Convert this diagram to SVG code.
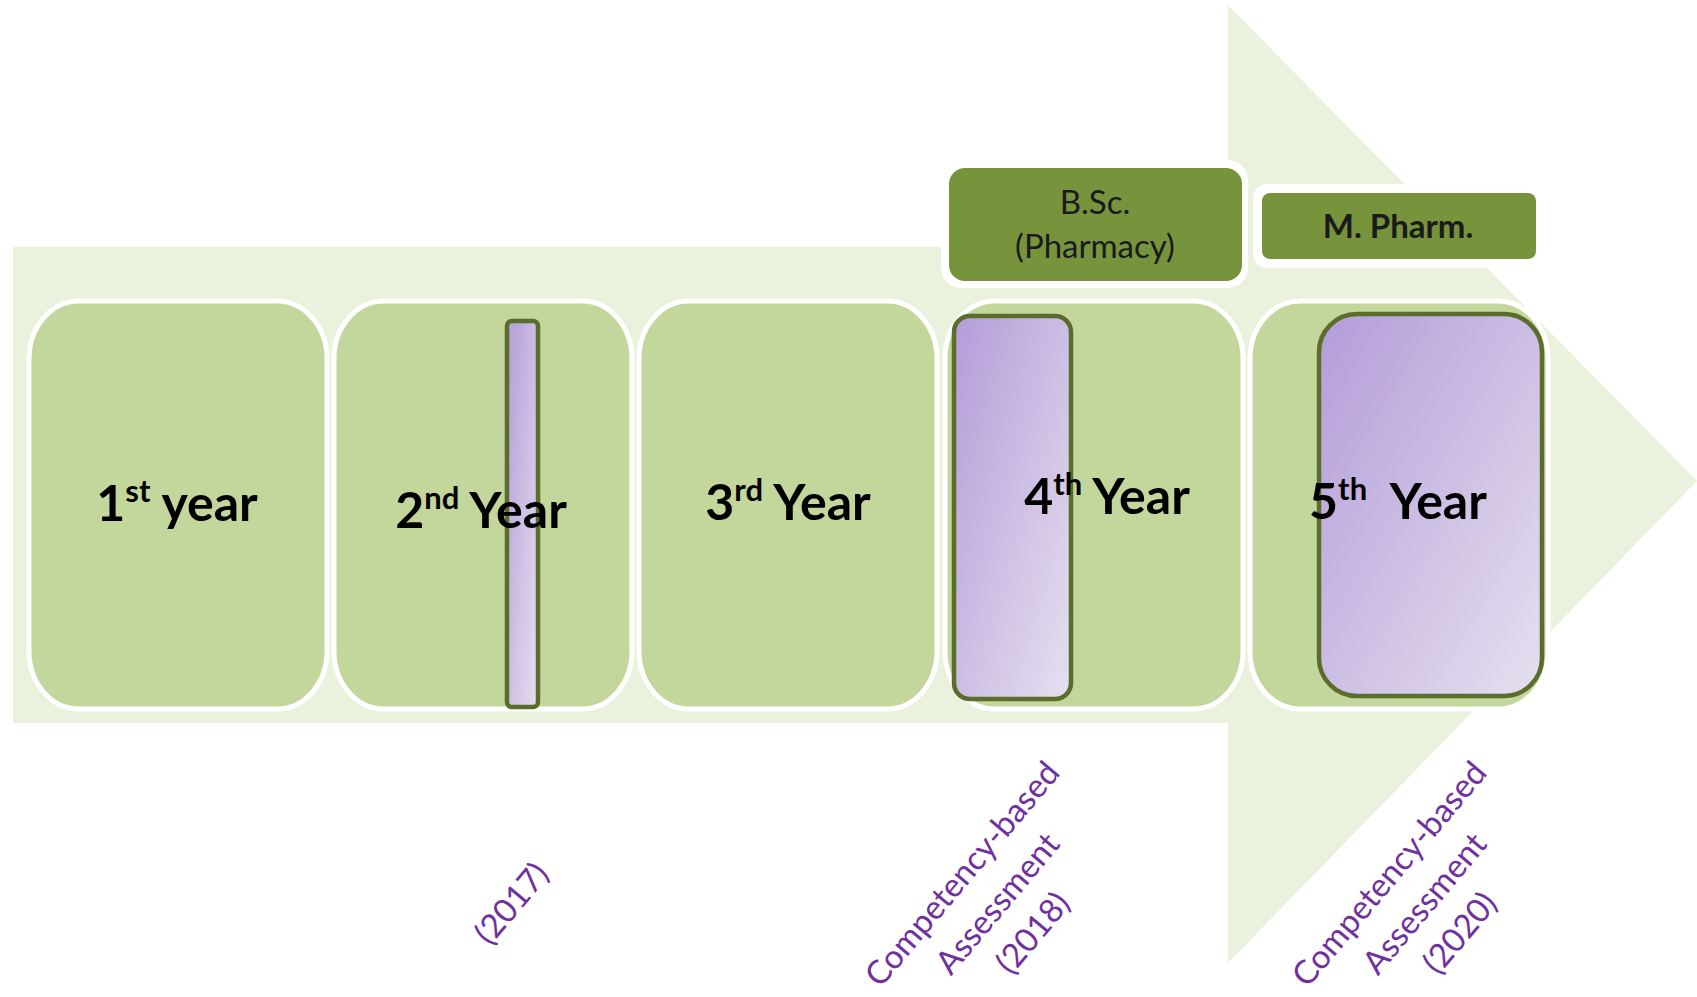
<svg xmlns="http://www.w3.org/2000/svg" width="1697" height="997" viewBox="0 0 1697 997">
<defs>
<linearGradient id="pg" x1="0" y1="0" x2="1" y2="1">
<stop offset="0" stop-color="#B39CD8"/>
<stop offset="1" stop-color="#E6E0EF"/>
</linearGradient>
<style>
.card{fill:#C3D69B;stroke:#FFFFFF;stroke-width:5}
.bar{fill:url(#pg);stroke:#5A6D2C;stroke-width:4.5}
.yt{font-family:Lato,"Open Sans",sans-serif;font-weight:bold;font-size:50px;fill:#000;text-anchor:middle}
.sup{font-size:31px}
.hb{fill:#77933C}
.hw{fill:#FFFFFF}
.ht{font-family:Lato,"Open Sans",sans-serif;font-size:33px;fill:#1A1A1A;text-anchor:middle}
.pt{font-family:Lato,"Open Sans",sans-serif;font-size:33px;fill:#7030A0;text-anchor:middle}
</style>
</defs>
<rect width="1697" height="997" fill="#FFFFFF"/>
<g id="arrow">
<polygon points="13,247 1228,247 1228,5 1697,481 1228,963 1228,723 13,723" fill="#EAF1DD"/>
</g>
<g id="year1">
<rect class="card" x="29" y="301" width="298" height="408" rx="50" ry="58"/>
<text class="yt" x="177" y="521">1<tspan class="sup" dy="-19">st</tspan><tspan dy="19"> year</tspan></text>
</g>
<g id="year2">
<rect class="card" x="334" y="301" width="298" height="408" rx="50" ry="58"/>
<rect class="bar" x="507" y="321" width="31" height="386" rx="5"/>
<text class="yt" x="481" y="528">2<tspan class="sup" dy="-19">nd</tspan><tspan dy="19"> Year</tspan></text>
</g>
<g id="year3">
<rect class="card" x="639" y="301" width="298" height="408" rx="50" ry="58"/>
<text class="yt" x="788" y="520">3<tspan class="sup" dy="-19">rd</tspan><tspan dy="19"> Year</tspan></text>
</g>
<g id="year4">
<rect class="card" x="945" y="301" width="298" height="408" rx="50" ry="58"/>
<rect class="bar" x="954" y="316" width="117" height="383" rx="16"/>
<text class="yt" x="1107" y="514">4<tspan class="sup" dy="-19">th</tspan><tspan dy="19"> Year</tspan></text>
</g>
<g id="year5">
<rect class="card" x="1250" y="301" width="298" height="408" rx="50" ry="58"/>
<rect class="bar" x="1319" y="314" width="223" height="382" rx="38"/>
<text class="yt" x="1398" y="519" xml:space="preserve">5<tspan class="sup" dy="-19">th</tspan><tspan dy="19">  Year</tspan></text>
</g>
<g id="bsc">
<rect class="hw" x="941" y="160" width="307" height="128" rx="20"/>
<rect class="hb" x="949" y="168" width="293" height="113" rx="16"/>
<text class="ht" x="1095" y="214">B.Sc.</text>
<text class="ht" x="1095" y="258">(Pharmacy)</text>
</g>
<g id="mpharm">
<rect class="hw" x="1253" y="184" width="292" height="84" rx="14"/>
<rect class="hb" x="1262" y="193" width="274" height="66" rx="8"/>
<text class="ht" x="1398" y="238" font-weight="bold">M. Pharm.</text>
</g>
<g id="labels">
<g transform="translate(511,903) rotate(-50)"><text class="pt" x="0" y="12">(2017)</text></g>
<g transform="translate(997,903) rotate(-50)">
<text class="pt" x="0" y="-34">Competency-based</text>
<text class="pt" x="0" y="12">Assessment</text>
<text class="pt" x="0" y="58">(2018)</text>
</g>
<g transform="translate(1424,903) rotate(-50)">
<text class="pt" x="0" y="-34">Competency-based</text>
<text class="pt" x="0" y="12">Assessment</text>
<text class="pt" x="0" y="58">(2020)</text>
</g>
</g>
<g id="connectors"/>
</svg>
